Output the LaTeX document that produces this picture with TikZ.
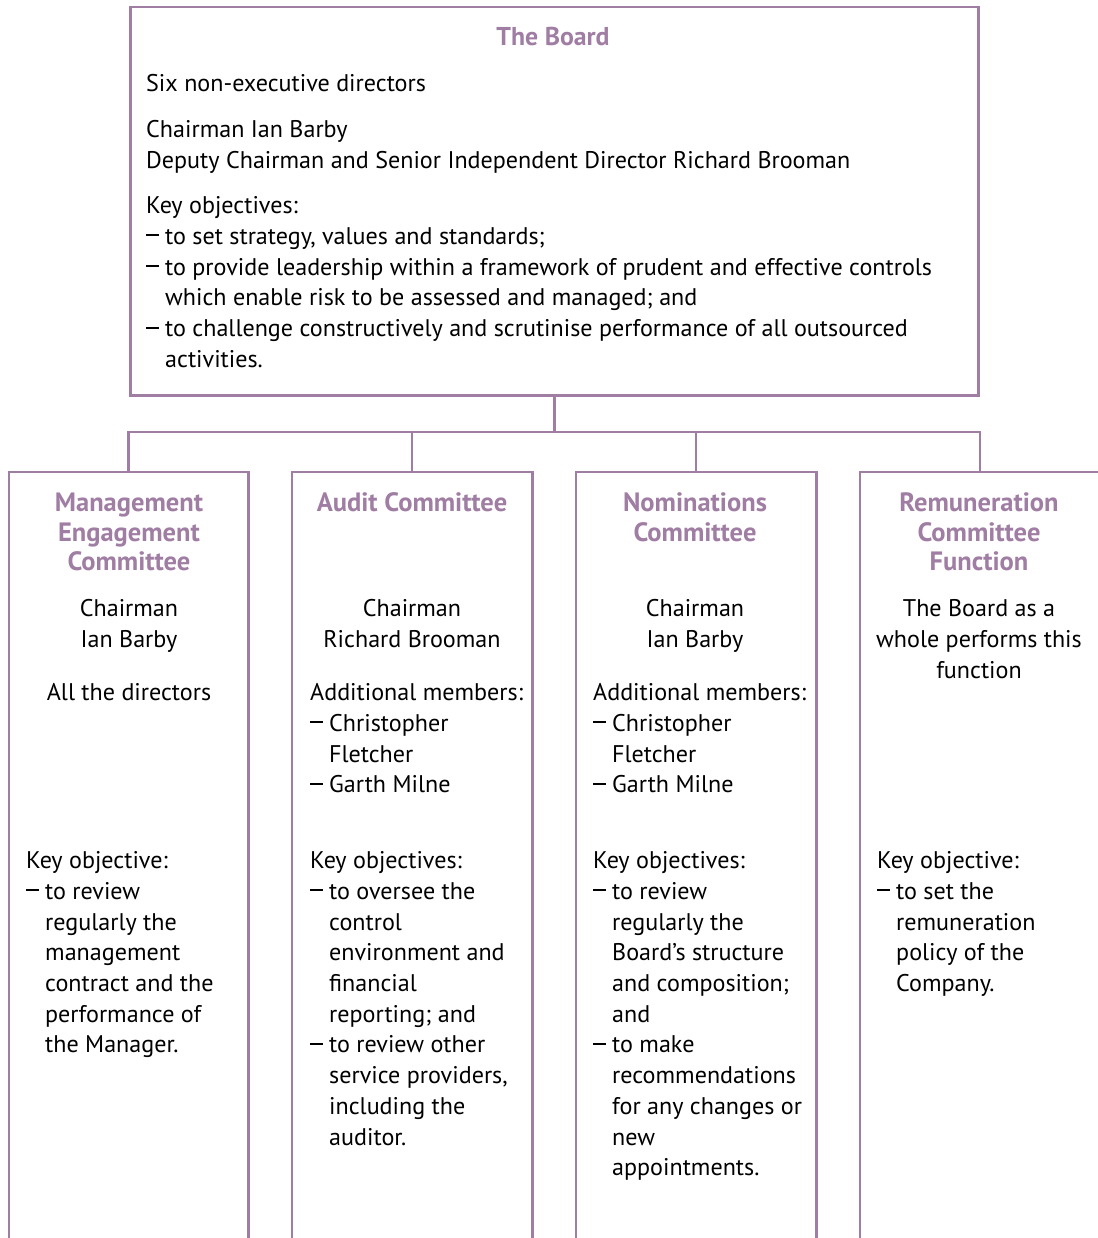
\documentclass[tikz,border=0pt]{standalone}
\usepackage{fontspec}
\setmainfont{PT Sans}
\definecolor{plum}{RGB}{160,125,163}
\newcommand{\bodyfont}{\fontsize{24.1}{30.7}\selectfont}
\newcommand{\boardtitlefont}{\fontsize{25.8}{30.7}\selectfont\bfseries}
\newcommand{\comtitlefont}{\fontsize{26.5}{29.5}\selectfont\bfseries}
\newcommand{\dsh}{\makebox[19pt][l]{\rule[8pt]{13pt}{2pt}}}
\newcommand{\hd}{\hspace*{19pt}}
\newcommand{\fs}{\rule{0pt}{22pt}}
\begin{document}
\begin{tikzpicture}[x=1pt,y=-1pt,
  frame/.style={draw=plum, line width=2.5pt},
  boxshape/.style={inner sep=0pt, minimum width=240pt, minimum height=780pt, anchor=north west},
  txt/.style={inner sep=0pt, font=\bodyfont, text=black},
  ttl/.style={inner sep=0pt, text=plum, align=center, anchor=north}]
\useasboundingbox (0,0) rectangle (1097,1238);
% board
\node[frame, inner sep=0pt, minimum width=848pt, minimum height=388pt, anchor=north west] (board) at (129,6) {};
% committee boxes
\node[boxshape, minimum width=239pt] (mec) at (9,472) {};
\node[boxshape] (aud) at (292,472) {};
\node[boxshape] (nom) at (576,472) {};
\node[boxshape] (rem) at (860,472) {};
\foreach \b in {mec,aud,nom,rem}
  \draw[frame] (\b.south west) -- (\b.north west) -- (\b.north east) -- (\b.south east);
% connectors
\coordinate (j) at (554,432);
\draw[frame] (board.south) -- (board.south |- j);
\draw[frame] (mec.north) -- (mec.north |- j) -- (rem.north |- j) -- (rem.north);
\draw[frame] (aud.north) -- (aud.north |- j);
\draw[frame] (nom.north) -- (nom.north |- j);
% board text
\node[ttl, font=\boardtitlefont] (bt) at (553,23.5) {\fs The Board};
\node[txt, anchor=north west, align=left] (b1) at (146,69.5) {\fs Six non-executive directors};
\node[txt, anchor=north west, align=left] (b2) at (146,115.5) {\fs Chairman Ian Barby\\Deputy Chairman and Senior Independent Director Richard Brooman};
\node[txt, anchor=north west, align=left] (b3) at (146,191.5) {\fs Key objectives:\\\dsh to set strategy, values and standards;\\\dsh to provide leadership within a framework of prudent and effective controls\\\hd which enable risk to be assessed and managed; and\\\dsh to challenge constructively and scrutinise performance of all outsourced\\\hd activities.};
% committee titles
\node[ttl, font=\comtitlefont] (t1) at (129,489.5) {\fs Management\\Engagement\\Committee};
\node[ttl, font=\comtitlefont] (t2) at (412,489.5) {\fs Audit Committee};
\node[ttl, font=\comtitlefont] (t3) at (695,489.5) {\fs Nominations\\Committee};
\node[ttl, font=\comtitlefont] (t4) at (979,489.5) {\fs Remuneration\\Committee\\Function};
% chairmen
\node[txt, anchor=north, align=center] (c1) at (129,594.5) {\fs Chairman\\Ian Barby};
\node[txt, anchor=north, align=center] (c2) at (412,594.5) {\fs Chairman\\Richard Brooman};
\node[txt, anchor=north, align=center] (c3) at (695,594.5) {\fs Chairman\\Ian Barby};
\node[txt, anchor=north, align=center] (c4) at (979,594.5) {\fs The Board as a\\whole performs this\\function};
% members
\node[txt, anchor=north, align=center] (a1) at (129,678.5) {\fs All the directors};
\node[txt, anchor=north west, align=left] (a2) at (310,678.5) {\fs Additional members:\\\dsh Christopher\\\hd Fletcher\\\dsh Garth Milne};
\node[txt, anchor=north west, align=left] (a3) at (593,678.5) {\fs Additional members:\\\dsh Christopher\\\hd Fletcher\\\dsh Garth Milne};
% key objectives
\node[txt, anchor=north west, align=left] (k1) at (26,846.5) {\fs Key objective:\\\dsh to review\\\hd regularly the\\\hd management\\\hd contract and the\\\hd performance of\\\hd the Manager.};
\node[txt, anchor=north west, align=left] (k2) at (310,846.5) {\fs Key objectives:\\\dsh to oversee the\\\hd control\\\hd environment and\\\hd financial\\\hd reporting; and\\\dsh to review other\\\hd service providers,\\\hd including the\\\hd auditor.};
\node[txt, anchor=north west, align=left] (k3) at (593,846.5) {\fs Key objectives:\\\dsh to review\\\hd regularly the\\\hd Board’s structure\\\hd and composition;\\\hd and\\\dsh to make\\\hd recommendations\\\hd for any changes or\\\hd new\\\hd appointments.};
\node[txt, anchor=north west, align=left] (k4) at (877,846.5) {\fs Key objective:\\\dsh to set the\\\hd remuneration\\\hd policy of the\\\hd Company.};
\end{tikzpicture}
\end{document}
